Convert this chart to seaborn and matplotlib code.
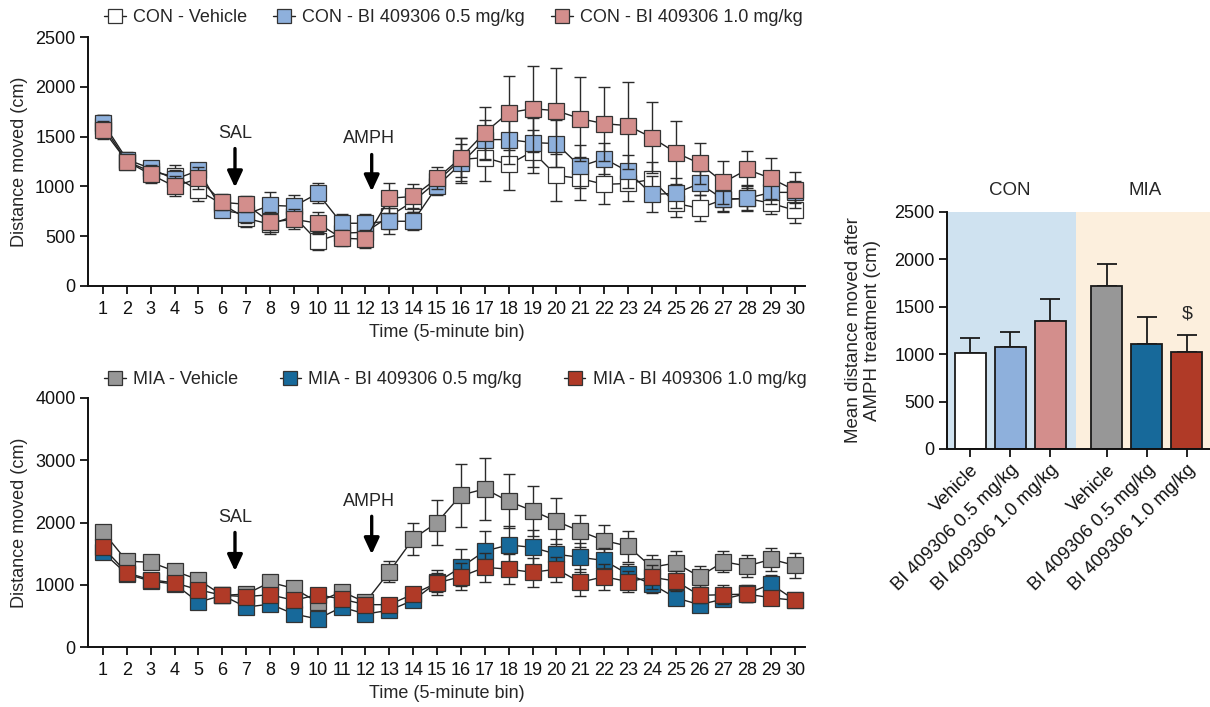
import numpy as np
import pandas as pd
import seaborn as sns
import matplotlib.pyplot as plt
from matplotlib.lines import Line2D

# time bins
bins = list(range(1, 31))

# CON groups (mean, SEM)
con_veh = [1610, 1250, 1150, 1100, 960, 820, 680, 620, 700, 450, 530, 540, 700, 850, 1050,
           1270, 1290, 1220, 1350, 1110, 1080, 1020, 1030, 1070, 830, 780, 870, 880, 830, 760]
con_veh_sem = [110, 80, 90, 110, 110, 80, 90, 100, 100, 90, 80, 90, 130, 110, 100,
               220, 240, 260, 220, 260, 220, 200, 180, 180, 140, 130, 120, 130, 110, 130]
con_05 = [1640, 1270, 1180, 1070, 1160, 760, 720, 810, 800, 930, 630, 630, 650, 650, 1000,
          1230, 1470, 1470, 1440, 1430, 1200, 1280, 1150, 920, 930, 1030, 870, 880, 940, 940]
con_05_sem = [80, 80, 80, 90, 70, 60, 90, 130, 110, 100, 90, 90, 130, 90, 90,
              200, 200, 250, 250, 240, 220, 160, 170, 180, 150, 120, 130, 120, 120, 110]
con_10 = [1570, 1250, 1120, 1000, 1080, 840, 820, 640, 670, 630, 480, 470, 880, 900, 1080,
          1290, 1540, 1740, 1780, 1760, 1680, 1630, 1610, 1490, 1340, 1230, 1040, 1170, 1080, 960]
con_10_sem = [90, 80, 90, 100, 110, 80, 80, 100, 100, 110, 80, 90, 150, 120, 110,
              200, 260, 370, 430, 430, 420, 370, 440, 360, 320, 210, 220, 190, 210, 180]

# MIA groups (mean, SEM)
mia_veh = [1850, 1380, 1360, 1220, 1080, 830, 850, 1040, 940, 720, 890, 720, 1210, 1740, 2000,
           2440, 2540, 2340, 2190, 2020, 1860, 1710, 1620, 1280, 1350, 1130, 1370, 1300, 1410, 1310]
mia_veh_sem = [90, 70, 80, 60, 70, 60, 60, 80, 80, 90, 70, 70, 170, 255, 360,
               505, 500, 436, 400, 372, 255, 245, 250, 197, 186, 165, 170, 176, 186, 202]
mia_05 = [1520, 1170, 1060, 1010, 720, 830, 640, 690, 530, 450, 640, 530, 590, 750, 1040,
          1280, 1540, 1640, 1600, 1490, 1440, 1390, 1170, 1010, 790, 680, 770, 860, 1010, 750]
mia_05_sem = [70, 80, 70, 70, 80, 60, 70, 80, 100, 110, 70, 80, 80, 100, 150,
              300, 320, 300, 280, 250, 230, 200, 170, 150, 120, 110, 110, 130, 150, 110]
mia_10 = [1600, 1190, 1080, 1030, 920, 830, 810, 840, 750, 840, 770, 680, 680, 850, 1030,
          1130, 1280, 1250, 1200, 1250, 1040, 1130, 1050, 1120, 1060, 830, 840, 850, 790, 750]
mia_10_sem = [70, 80, 70, 80, 90, 70, 80, 90, 110, 80, 80, 80, 80, 100, 200,
              220, 230, 240, 230, 200, 220, 210, 170, 190, 160, 130, 150, 130, 110, 110]

# bar chart: mean distance after AMPH
bar_labels = ['Vehicle', 'BI 409306 0.5 mg/kg', 'BI 409306 1.0 mg/kg',
              'Vehicle', 'BI 409306 0.5 mg/kg', 'BI 409306 1.0 mg/kg']
bar_means = [1010, 1080, 1345, 1720, 1110, 1020]
bar_sem = [165, 150, 235, 235, 285, 185]
bar_pos = [0, 1, 2, 3.42, 4.42, 5.42]

con_names = ['CON - Vehicle', 'CON - BI 409306 0.5 mg/kg', 'CON - BI 409306 1.0 mg/kg']
mia_names = ['MIA - Vehicle', 'MIA - BI 409306 0.5 mg/kg', 'MIA - BI 409306 1.0 mg/kg']
con_colors = ['#ffffff', '#8eb0dc', '#d38e8c']
mia_colors = ['#979797', '#17699a', '#b03a27']

sns.set_style('ticks')
plt.rcParams['font.family'] = ['Liberation Sans', 'DejaVu Sans']
plt.rcParams['font.size'] = 13

fig = plt.figure(figsize=(12.1, 7.07), dpi=100)
ax1 = fig.add_axes([88 / 1210, 1 - 286 / 707, 717 / 1210, 249 / 707])
ax2 = fig.add_axes([88 / 1210, 1 - 647 / 707, 717 / 1210, 249 / 707])
ax3 = fig.add_axes([947 / 1210, 1 - 449 / 707, 263 / 1210, 237 / 707])


def time_panel(ax, names, colors, means, sems, ymax, ystep):
    for i, (nm, c, m, s) in enumerate(zip(names, colors, means, sems)):
        df = pd.DataFrame({'bin': bins, 'dist': m})
        ax.errorbar(bins, m, yerr=s, fmt='none', ecolor='#2b2b2b', elinewidth=1,
                    capsize=4.5, capthick=1, zorder=3 + i)
        sns.lineplot(data=df, x='bin', y='dist', ax=ax, color='#222222', lw=1,
                     marker='s', markersize=11.5, markerfacecolor=c,
                     markeredgecolor='#333333', markeredgewidth=0.9,
                     zorder=3.5 + i)
    ax.set_xlim(0.37, 30.42)
    ax.set_ylim(0, ymax)
    ax.set_xticks(bins)
    ax.set_xticklabels([str(b) for b in bins], fontsize=13)
    ax.set_yticks(np.arange(0, ymax + 1, ystep))
    ax.set_xlabel('Time (5-minute bin)', fontsize=13, labelpad=4)
    ax.set_ylabel('Distance moved (cm)', fontsize=13)
    ax.yaxis.set_label_coords(-0.084, 0.5)
    sns.despine(ax=ax)
    for sp in ['left', 'bottom']:
        ax.spines[sp].set_linewidth(1.4)
        ax.spines[sp].set_color('#111111')
    ax.tick_params(axis='both', length=6, width=1.3, colors='#111111',
                   labelcolor='#111111', pad=3)
    ax.tick_params(axis='x', pad=5)


time_panel(ax1, con_names, con_colors, [con_veh, con_05, con_10],
           [con_veh_sem, con_05_sem, con_10_sem], 2500, 500)
time_panel(ax2, mia_names, mia_colors, [mia_veh, mia_05, mia_10],
           [mia_veh_sem, mia_05_sem, mia_10_sem], 4000, 1000)

arrow = dict(arrowstyle='-|>,head_width=0.35,head_length=0.75', lw=2.4, color='black',
             shrinkA=0, shrinkB=0)
ax1.annotate('', xy=(6.53, 990), xytext=(6.53, 1380), arrowprops=arrow)
ax1.text(6.53, 1530, 'SAL', ha='center', va='center', fontsize=13)
ax1.annotate('', xy=(12.26, 950), xytext=(12.26, 1320), arrowprops=arrow)
ax1.text(12.13, 1480, 'AMPH', ha='center', va='center', fontsize=13)
ax2.annotate('', xy=(6.53, 1220), xytext=(6.53, 1840), arrowprops=arrow)
ax2.text(6.53, 2075, 'SAL', ha='center', va='center', fontsize=13)
ax2.annotate('', xy=(12.26, 1490), xytext=(12.26, 2100), arrowprops=arrow)
ax2.text(12.13, 2340, 'AMPH', ha='center', va='center', fontsize=13)


def legend_handles(colors):
    return [Line2D([0], [0], color='#222222', lw=1, marker='s', markersize=10,
                   markerfacecolor=c, markeredgecolor='#333333', markeredgewidth=0.9)
            for c in colors]


fig.legend(legend_handles(con_colors), con_names, loc='center left',
           bbox_to_anchor=(104 / 1210, 1 - 18 / 707), ncol=3, frameon=False,
           borderpad=0, borderaxespad=0, handlelength=1.2, handletextpad=0.4,
           columnspacing=1.45, fontsize=13)
fig.legend(legend_handles(mia_colors), mia_names, loc='center left',
           bbox_to_anchor=(104 / 1210, 1 - 380 / 707), ncol=3, frameon=False,
           borderpad=0, borderaxespad=0, handlelength=1.2, handletextpad=0.4,
           columnspacing=2.3, fontsize=13)

# bar chart
ax3.axvspan(-0.58, 2.65, color='#cfe2f0', lw=0, zorder=0)
ax3.axvspan(2.65, 6.0, color='#fcefdd', lw=0, zorder=0)
bar_df = pd.DataFrame({'pos': bar_pos, 'mean': bar_means})
sns.barplot(data=bar_df, x='pos', y='mean', native_scale=True, hue='pos',
            palette=con_colors + mia_colors, legend=False, width=0.77,
            saturation=1, edgecolor='#1a1a1a', linewidth=1.3, ax=ax3, zorder=2)
ax3.errorbar(bar_pos, bar_means, yerr=[[0] * 6, bar_sem], fmt='none',
             ecolor='#1a1a1a', elinewidth=1.3, capsize=7, capthick=1.3, zorder=1)
ax3.text(5.42, 1420, '$', ha='center', va='center', fontsize=14)
ax3.set_xlim(-0.58, 6.0)
ax3.set_ylim(0, 2500)
ax3.set_yticks(np.arange(0, 2501, 500))
ax3.set_xticks(bar_pos)
ax3.set_xticklabels(bar_labels, rotation=45, ha='right', rotation_mode='anchor',
                    fontsize=13.3)
ax3.set_xlabel('')
ax3.set_ylabel('Mean distance moved after\nAMPH treatment (cm)', fontsize=13.5,
               linespacing=1.15)
ax3.yaxis.set_label_coords(-0.25, 0.5)
ax3.text(1.0, 1.09, 'CON', transform=ax3.get_xaxis_transform(), ha='center',
         va='center', fontsize=13.5)
ax3.text(4.37, 1.09, 'MIA', transform=ax3.get_xaxis_transform(), ha='center',
         va='center', fontsize=13.5)
sns.despine(ax=ax3)
for sp in ['left', 'bottom']:
    ax3.spines[sp].set_linewidth(1.4)
    ax3.spines[sp].set_color('#111111')
ax3.tick_params(axis='both', length=6, width=1.3, colors='#111111',
                labelcolor='#111111', pad=3)

fig.savefig('out.png', dpi=100)
